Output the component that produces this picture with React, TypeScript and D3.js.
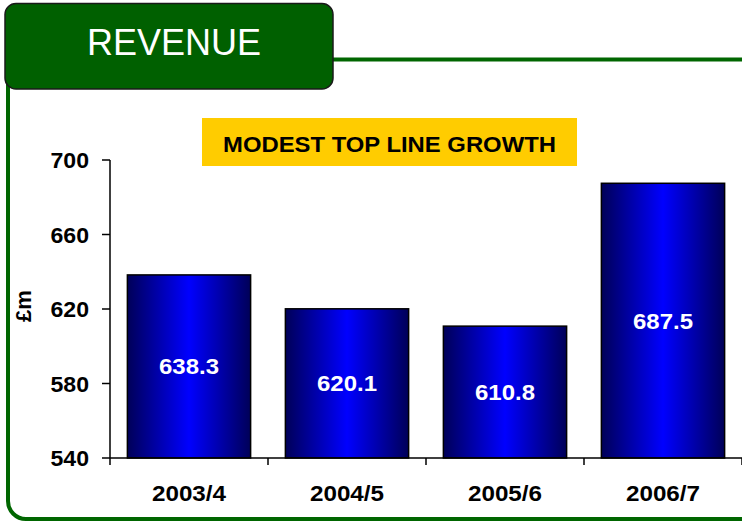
import React from "react";
import * as d3 from "d3";

const categories = ["2003/4", "2004/5", "2005/6", "2006/7"];
const values = [638.3, 620.1, 610.8, 687.5];
const yTicks = [540, 580, 620, 660, 700];
const yDomain = [540, 700];
const title = "REVENUE";
const subtitle = "MODEST TOP LINE GROWTH";
const yLabel = "£m";

const W = 742;
const H = 522;
const FONT = "'Liberation Sans', Arial, Helvetica, sans-serif";

function T(props: {
  x: number;
  y: number;
  size: number;
  sx?: number;
  anchor?: "start" | "middle" | "end";
  fill?: string;
  bold?: boolean;
  children: React.ReactNode;
}) {
  const { x, y, size, sx = 1.08, anchor = "middle", fill = "#000", bold = true, children } = props;
  return (
    <text
      transform={`translate(${x},${y}) scale(${sx},1)`}
      fontSize={size}
      fontWeight={bold ? "bold" : "normal"}
      textAnchor={anchor}
      fill={fill}
    >
      {children}
    </text>
  );
}

export default function App() {
  const y = d3.scaleLinear().domain(yDomain).range([458, 160]);
  const x = d3
    .scaleBand<string>()
    .domain(categories)
    .range([110, 742])
    .paddingInner(0.22)
    .paddingOuter(0.11);
  const step = x.step();
  const half = (step * x.paddingInner()) / 2;
  const boundaries = categories.map((c) => (x(c) as number) - half);
  boundaries.push((x(categories[categories.length - 1]) as number) + x.bandwidth() + half);

  return (
    <svg
      width={W}
      height={H}
      style={{ position: "fixed", left: 0, top: 0, background: "#fff" }}
      fontFamily={FONT}
    >
      <defs>
        <linearGradient id="barGrad" x1="0" x2="1" y1="0" y2="0">
          <stop offset="0%" stopColor="#000058" />
          <stop offset="50%" stopColor="#0000FF" />
          <stop offset="100%" stopColor="#000058" />
        </linearGradient>
      </defs>
      <rect x={0} y={0} width={W} height={H} fill="#fff" />
      {/* frame */}
      <rect x={8} y={59.5} width={770} height={459.5} rx={18} ry={18} fill="none" stroke="#006600" strokeWidth={4} />
      {/* tab */}
      <rect x={5} y={3.5} width={328} height={85.5} rx={11} ry={11} fill="#006000" stroke="#1a1a1a" strokeWidth={1.5} />
      <T x={174} y={55} size={36} sx={1} fill="#fff" bold={false}>
        {title}
      </T>

      {/* subtitle box */}
      <rect x={202} y={118} width={375} height={48} fill="#FFCC00" />
      <T x={389.5} y={151.5} size={22.5} sx={1.06}>
        {subtitle}
      </T>

      {/* bars */}
      {categories.map((c, i) => {
        const bx = x(c) as number;
        const by = y(values[i]);
        const bh = y(yDomain[0]) - by;
        return (
          <g key={c}>
            <rect x={bx} y={by} width={x.bandwidth()} height={bh} fill="url(#barGrad)" stroke="#000" strokeWidth={1.5} />
            <T x={bx + x.bandwidth() / 2} y={by + bh / 2 + 8} size={22} sx={1.09} fill="#fff">
              {values[i].toFixed(1)}
            </T>
          </g>
        );
      })}

      {/* y axis */}
      <line x1={110} x2={110} y1={y(yDomain[1])} y2={y(yDomain[0])} stroke="#000" strokeWidth={1.5} />
      {yTicks.map((t) => (
        <g key={t}>
          <line x1={102} x2={110} y1={y(t)} y2={y(t)} stroke="#000" strokeWidth={1.5} />
          <T x={89} y={y(t) + 8} size={22} sx={1.05} anchor="end">
            {t}
          </T>
        </g>
      ))}
      <text
        transform={`translate(31,306) rotate(-90)`}
        fontSize={22}
        fontWeight="bold"
        textAnchor="middle"
        fill="#000"
      >
        {yLabel}
      </text>

      {/* x axis */}
      <line x1={110} x2={742} y1={y(yDomain[0])} y2={y(yDomain[0])} stroke="#000" strokeWidth={1.5} />
      {boundaries.map((bx, i) => (
        <line key={i} x1={bx} x2={bx} y1={y(yDomain[0])} y2={y(yDomain[0]) + 7} stroke="#000" strokeWidth={1.5} />
      ))}
      {categories.map((c) => (
        <T key={c} x={(x(c) as number) + x.bandwidth() / 2} y={501} size={22} sx={1.1}>
          {c}
        </T>
      ))}
    </svg>
  );
}
